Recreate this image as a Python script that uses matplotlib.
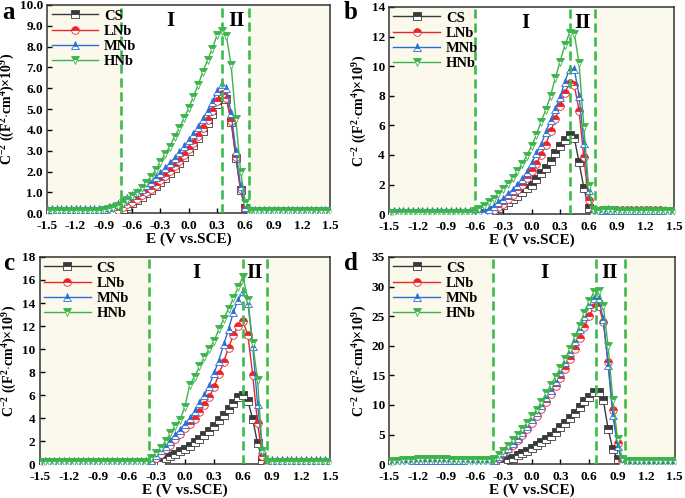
import numpy as np
import matplotlib
matplotlib.use("Agg")
import matplotlib.pyplot as plt

plt.rcParams['font.family'] = ['Liberation Serif', 'DejaVu Serif']
plt.rcParams['font.weight'] = 'bold'
plt.rcParams['mathtext.fontset'] = 'custom'
plt.rcParams['mathtext.rm'] = 'Liberation Serif:bold'
plt.rcParams['mathtext.it'] = 'Liberation Serif:bold'
plt.rcParams['mathtext.bf'] = 'Liberation Serif:bold'

# potential sweep, 0.05 V steps
E = np.linspace(-1.5, 1.5, 61)
series_names = ['CS', 'LNb', 'MNb', 'HNb']

# ---- panel a ----
a_cs = [0.04, 0.04, 0.04, 0.04, 0.04, 0.04, 0.04, 0.04, 0.04, 0.04,
        0.04, 0.04, 0.04, 0.04, 0.04, 0.10, 0.22, 0.36, 0.50, 0.64,
        0.79, 0.95, 1.12, 1.30, 1.50, 1.71, 1.93, 2.17, 2.42, 2.69,
        2.97, 3.28, 3.60, 3.96, 4.35, 4.78, 5.25, 5.55, 5.50, 4.40,
        2.65, 1.10, 0.25, 0.05, 0.05, 0.05, 0.05, 0.05, 0.05, 0.05,
        0.05, 0.05, 0.05, 0.05, 0.05, 0.05, 0.05, 0.05, 0.05, 0.05,
        0.05]
a_lnb = [0.05, 0.05, 0.05, 0.05, 0.05, 0.05, 0.05, 0.05, 0.05, 0.05,
         0.05, 0.05, 0.05, 0.05, 0.08, 0.15, 0.28, 0.42, 0.55, 0.70,
         0.85, 1.01, 1.18, 1.37, 1.57, 1.78, 2.01, 2.25, 2.51, 2.78,
         3.07, 3.38, 3.72, 4.08, 4.48, 4.92, 5.40, 5.70, 5.55, 4.45,
         2.70, 1.15, 0.25, 0.08, 0.08, 0.08, 0.08, 0.08, 0.08, 0.08,
         0.08, 0.08, 0.08, 0.08, 0.08, 0.08, 0.08, 0.08, 0.08, 0.08,
         0.08]
a_mnb = [0.20, 0.20, 0.21, 0.21, 0.21, 0.21, 0.21, 0.21, 0.21, 0.21,
         0.21, 0.21, 0.22, 0.28, 0.36, 0.46, 0.58, 0.71, 0.85, 1.00,
         1.16, 1.33, 1.52, 1.72, 1.94, 2.17, 2.41, 2.66, 2.93, 3.21,
         3.50, 3.82, 4.16, 4.52, 4.92, 5.35, 5.85, 6.20, 6.00, 4.80,
         3.00, 1.30, 0.30, 0.15, 0.15, 0.15, 0.15, 0.15, 0.15, 0.15,
         0.15, 0.15, 0.15, 0.15, 0.15, 0.15, 0.15, 0.15, 0.15, 0.15,
         0.15]
a_hnb = [0.08, 0.08, 0.09, 0.09, 0.09, 0.10, 0.10, 0.10, 0.10, 0.11,
         0.11, 0.12, 0.14, 0.18, 0.25, 0.35, 0.48, 0.64, 0.80, 0.99,
         1.20, 1.47, 1.76, 2.08, 2.48, 2.85, 3.20, 3.68, 4.08, 4.56,
         5.04, 5.60, 6.16, 6.80, 7.36, 7.90, 8.55, 8.75, 8.50, 7.10,
         4.50, 2.00, 0.50, 0.12, 0.10, 0.10, 0.10, 0.10, 0.10, 0.10,
         0.10, 0.10, 0.10, 0.10, 0.10, 0.10, 0.10, 0.10, 0.10, 0.10,
         0.10]

# ---- panel b ----
b_cs = [0.05, 0.05, 0.05, 0.05, 0.05, 0.05, 0.05, 0.05, 0.05, 0.05,
        0.05, 0.05, 0.05, 0.05, 0.05, 0.05, 0.05, 0.05, 0.05, 0.05,
        0.05, 0.10, 0.25, 0.40, 0.60, 0.80, 1.00, 1.25, 1.50, 1.80,
        2.00, 2.40, 2.75, 3.15, 3.60, 4.10, 4.60, 5.00, 5.35, 5.15,
        3.50, 1.80, 0.40, 0.05, 0.05, 0.05, 0.05, 0.05, 0.05, 0.05,
        0.05, 0.05, 0.05, 0.05, 0.05, 0.05, 0.05, 0.05, 0.05, 0.05,
        0.05]
b_lnb = [0.08, 0.08, 0.08, 0.08, 0.08, 0.08, 0.08, 0.08, 0.08, 0.08,
         0.08, 0.08, 0.08, 0.08, 0.08, 0.08, 0.08, 0.08, 0.08, 0.08,
         0.08, 0.12, 0.25, 0.45, 0.70, 1.00, 1.30, 1.60, 2.00, 2.45,
         2.90, 3.40, 4.00, 4.70, 5.60, 6.40, 7.30, 8.20, 8.85, 8.70,
         7.00, 3.85, 0.96, 0.10, 0.15, 0.25, 0.30, 0.28, 0.25, 0.25,
         0.25, 0.25, 0.28, 0.28, 0.28, 0.25, 0.25, 0.25, 0.22, 0.22,
         0.20]
b_mnb = [0.20, 0.20, 0.20, 0.20, 0.20, 0.20, 0.20, 0.20, 0.20, 0.20,
         0.20, 0.20, 0.20, 0.20, 0.20, 0.20, 0.20, 0.20, 0.20, 0.20,
         0.20, 0.35, 0.55, 0.80, 1.05, 1.35, 1.65, 2.00, 2.40, 2.87,
         3.44, 4.10, 4.67, 5.57, 6.35, 7.10, 7.90, 8.95, 9.80, 9.80,
         8.00, 4.80, 1.64, 0.20, 0.22, 0.30, 0.35, 0.30, 0.28, 0.25,
         0.25, 0.25, 0.25, 0.28, 0.28, 0.28, 0.25, 0.25, 0.25, 0.22,
         0.22]
b_hnb = [0.10, 0.10, 0.10, 0.10, 0.10, 0.10, 0.10, 0.10, 0.10, 0.10,
         0.10, 0.10, 0.10, 0.10, 0.10, 0.10, 0.10, 0.10, 0.18, 0.35,
         0.55, 0.80, 1.05, 1.35, 1.70, 2.05, 2.45, 2.90, 3.40, 3.95,
         4.60, 5.35, 6.25, 7.05, 8.00, 9.20, 10.30, 11.40, 12.25, 12.20,
         10.20, 5.90, 1.90, 0.25, 0.20, 0.25, 0.30, 0.25, 0.20, 0.20,
         0.20, 0.20, 0.20, 0.20, 0.20, 0.20, 0.20, 0.20, 0.20, 0.20,
         0.20]

# ---- panel c ----
c_cs = [0.10, 0.10, 0.10, 0.10, 0.10, 0.10, 0.10, 0.10, 0.10, 0.10,
        0.10, 0.10, 0.10, 0.10, 0.10, 0.10, 0.10, 0.10, 0.10, 0.10,
        0.10, 0.10, 0.10, 0.10, 0.15, 0.30, 0.50, 0.70, 0.90, 1.10,
        1.30, 1.60, 1.90, 2.20, 2.50, 2.90, 3.30, 3.80, 4.30, 4.80,
        5.30, 5.80, 6.00, 5.50, 3.90, 1.80, 0.40, 0.10, 0.10, 0.10,
        0.10, 0.10, 0.10, 0.10, 0.10, 0.10, 0.10, 0.10, 0.10, 0.10,
        0.10]
c_lnb = [0.15, 0.15, 0.15, 0.15, 0.15, 0.15, 0.15, 0.15, 0.15, 0.15,
         0.15, 0.15, 0.15, 0.15, 0.15, 0.15, 0.15, 0.15, 0.15, 0.15,
         0.15, 0.15, 0.15, 0.20, 0.50, 0.90, 1.30, 1.70, 2.20, 2.60,
         3.10, 3.50, 3.90, 4.50, 5.10, 5.80, 6.70, 7.80, 8.90, 10.10,
         11.20, 12.00, 12.40, 11.20, 7.75, 3.55, 0.70, 0.10, 0.20, 0.20,
         0.20, 0.20, 0.20, 0.20, 0.20, 0.20, 0.20, 0.20, 0.20, 0.20,
         0.20]
c_mnb = [0.30, 0.30, 0.30, 0.30, 0.30, 0.30, 0.30, 0.30, 0.30, 0.30,
         0.30, 0.30, 0.30, 0.30, 0.30, 0.30, 0.30, 0.30, 0.30, 0.30,
         0.30, 0.30, 0.30, 0.40, 0.80, 1.20, 1.60, 2.00, 2.50, 3.00,
         3.50, 4.00, 4.60, 5.30, 6.00, 6.80, 7.90, 9.00, 10.40, 11.70,
         13.20, 14.30, 15.00, 14.00, 10.30, 5.20, 1.30, 0.20, 0.35, 0.35,
         0.35, 0.35, 0.35, 0.35, 0.35, 0.35, 0.35, 0.35, 0.35, 0.35,
         0.35]
c_hnb = [0.20, 0.20, 0.20, 0.20, 0.20, 0.20, 0.20, 0.20, 0.20, 0.20,
         0.20, 0.20, 0.20, 0.20, 0.20, 0.20, 0.20, 0.20, 0.20, 0.20,
         0.20, 0.20, 0.22, 0.50, 0.95, 1.40, 2.00, 2.70, 3.30, 3.85,
         5.00, 6.90, 7.60, 8.50, 9.30, 10.00, 10.70, 11.70, 12.60, 13.50,
         14.40, 15.40, 16.30, 14.30, 10.50, 7.30, 1.10, 0.20, 0.20, 0.20,
         0.20, 0.20, 0.20, 0.20, 0.20, 0.20, 0.20, 0.20, 0.20, 0.20,
         0.20]

# ---- panel d ----
d_cs = [0.30, 0.32, 0.35, 0.38, 0.40, 0.42, 0.45, 0.48, 0.50, 0.50,
        0.48, 0.46, 0.45, 0.44, 0.42, 0.40, 0.38, 0.36, 0.35, 0.34,
        0.33, 0.32, 0.32, 0.35, 0.40, 0.80, 1.10, 1.50, 1.90, 2.30,
        2.70, 3.20, 3.70, 4.20, 4.80, 5.50, 6.20, 7.00, 7.80, 8.70,
        9.60, 10.60, 11.30, 12.20, 12.20, 10.80, 6.00, 2.50, 0.80, 0.20,
        0.20, 0.20, 0.20, 0.20, 0.20, 0.20, 0.20, 0.20, 0.20, 0.20,
        0.20]
d_lnb = [0.35, 0.38, 0.42, 0.46, 0.50, 0.54, 0.58, 0.62, 0.65, 0.64,
         0.62, 0.60, 0.58, 0.56, 0.54, 0.52, 0.50, 0.48, 0.46, 0.45,
         0.44, 0.44, 0.50, 1.10, 1.80, 2.50, 3.30, 4.10, 5.00, 6.00,
         7.00, 8.10, 9.30, 10.50, 11.80, 13.20, 14.60, 16.10, 17.70, 19.50,
         21.30, 23.20, 25.00, 26.50, 26.80, 24.00, 17.20, 9.10, 3.50, 0.50,
         0.35, 0.35, 0.35, 0.35, 0.35, 0.35, 0.35, 0.35, 0.35, 0.35,
         0.35]
d_mnb = [0.40, 0.45, 0.50, 0.55, 0.60, 0.65, 0.70, 0.75, 0.78, 0.76,
         0.74, 0.72, 0.70, 0.68, 0.66, 0.64, 0.62, 0.60, 0.58, 0.56,
         0.55, 0.55, 0.70, 1.30, 2.00, 2.80, 3.60, 4.50, 5.50, 6.50,
         7.60, 8.80, 10.00, 11.30, 12.60, 14.10, 15.60, 17.20, 18.90, 20.80,
         22.80, 25.00, 27.00, 28.00, 28.00, 24.50, 16.80, 8.30, 3.00, 0.50,
         0.40, 0.40, 0.40, 0.40, 0.40, 0.40, 0.40, 0.40, 0.40, 0.40,
         0.40]
d_hnb = [0.50, 0.55, 0.60, 0.65, 0.70, 0.75, 0.80, 0.85, 0.90, 0.88,
         0.85, 0.82, 0.80, 0.78, 0.75, 0.72, 0.70, 0.68, 0.66, 0.64,
         0.62, 0.62, 0.80, 1.50, 2.30, 3.10, 4.00, 5.00, 6.00, 7.00,
         8.10, 9.20, 10.50, 12.00, 13.40, 14.80, 16.30, 17.80, 19.50, 21.50,
         23.40, 25.50, 27.50, 29.00, 29.30, 26.80, 20.00, 10.80, 4.30, 0.80,
         0.50, 0.45, 0.45, 0.45, 0.45, 0.45, 0.45, 0.45, 0.45, 0.45,
         0.45]

# region boundaries (V)
a_bounds = [-0.72, 0.35, 0.635]
b_bounds = [-0.60, 0.40, 0.67]
c_bounds = [-0.37, 0.60, 0.845]
d_bounds = [-0.41, 0.67, 0.975]

a_yticks = [0, 1, 2, 3, 4, 5, 6, 7, 8, 9, 10]
b_yticks = [0, 2, 4, 6, 8, 10, 12, 14]
c_yticks = [0, 2, 4, 6, 8, 10, 12, 14, 16, 18]
d_yticks = [0, 5, 10, 15, 20, 25, 30, 35]

colors = ['#3a3a3a', '#e8262a', '#2a6fd8', '#3cb44b']
markers = ['s', 'o', '^', 'v']
shade = '#fbf9ec'
dash_green = '#3bbb4c'

fig = plt.figure(figsize=(6.85, 4.98), dpi=100)

panels = [
    ('a', [0.069, 0.572, 0.413, 0.418], [a_cs, a_lnb, a_mnb, a_hnb], a_bounds, a_yticks, '%.1f', -0.19, 0.51, (0.004, 0.975)),
    ('b', [0.568, 0.570, 0.416, 0.416], [b_cs, b_lnb, b_mnb, b_hnb], b_bounds, b_yticks, '%d', -0.07, 0.535, (0.502, 0.975)),
    ('c', [0.058, 0.068, 0.424, 0.416], [c_cs, c_lnb, c_mnb, c_hnb], c_bounds, c_yticks, '%d', 0.12, 0.72, (0.004, 0.47)),
    ('d', [0.568, 0.068, 0.417, 0.416], [d_cs, d_lnb, d_mnb, d_hnb], d_bounds, d_yticks, '%d', 0.13, 0.82, (0.502, 0.47)),
]

for letter, rect, data, bounds, yt, fmt, x1, x2, lpos in panels:
    ax = fig.add_axes(rect)
    ax.axvspan(-1.5, bounds[0], color=shade, zorder=0, lw=0)
    ax.axvspan(bounds[2], 1.5, color=shade, zorder=0, lw=0)
    for ys, name, c, m in zip(data, series_names, colors, markers):
        ax.plot(E, ys, color=c, marker=m, markersize=5.5, lw=1,
                fillstyle='top', markerfacecoloralt='white',
                markeredgewidth=0.6, label=name, zorder=3)
    for b in bounds:
        ax.axvline(b, color=dash_green, lw=1.9, ls=(0, (3.5, 1.8)), zorder=4)
    ax.set_xlim(-1.5, 1.5)
    ax.set_ylim(yt[0], yt[-1])
    ax.set_xticks([-1.5, -1.2, -0.9, -0.6, -0.3, 0.0, 0.3, 0.6, 0.9, 1.2, 1.5])
    ax.set_xticklabels(['-1.5', '-1.2', '-0.9', '-0.6', '-0.3', '0.0', '0.3',
                        '0.6', '0.9', '1.2', '1.5'])
    ax.set_yticks(yt)
    ax.set_yticklabels([fmt % v for v in yt])
    ax.tick_params(direction='in', length=3.5, width=1, labelsize=9.5)
    ax.tick_params(axis='x', pad=5)
    ax.tick_params(axis='y', pad=3)
    for s in ax.spines.values():
        s.set_linewidth(1.1)
        s.set_color('#333333')
    ax.set_xlabel('E (V vs.SCE)', fontsize=11, fontweight='bold', labelpad=0)
    ax.set_ylabel(r'C$^{-2}$ ((F$^{2}$$\cdot$cm$^{4}$)$\times$10$^{9}$)',
                  fontsize=10, fontweight='bold', labelpad=2)
    ax.text(x1, 0.925, 'I', transform=ax.get_xaxis_transform(),
            fontsize=15, fontweight='bold', ha='center', va='center')
    ax.text(x2, 0.925, 'II', transform=ax.get_xaxis_transform(),
            fontsize=15, fontweight='bold', ha='center', va='center')
    ax.legend(loc='upper left', frameon=False, fontsize=10.5, handlelength=3.2,
              labelspacing=0.14, borderaxespad=0.2, handletextpad=0.4,
              borderpad=0.1)
    fig.text(lpos[0], lpos[1], letter, fontsize=18, fontweight='bold',
             ha='left', va='center')

fig.savefig('out.png', dpi=100)
